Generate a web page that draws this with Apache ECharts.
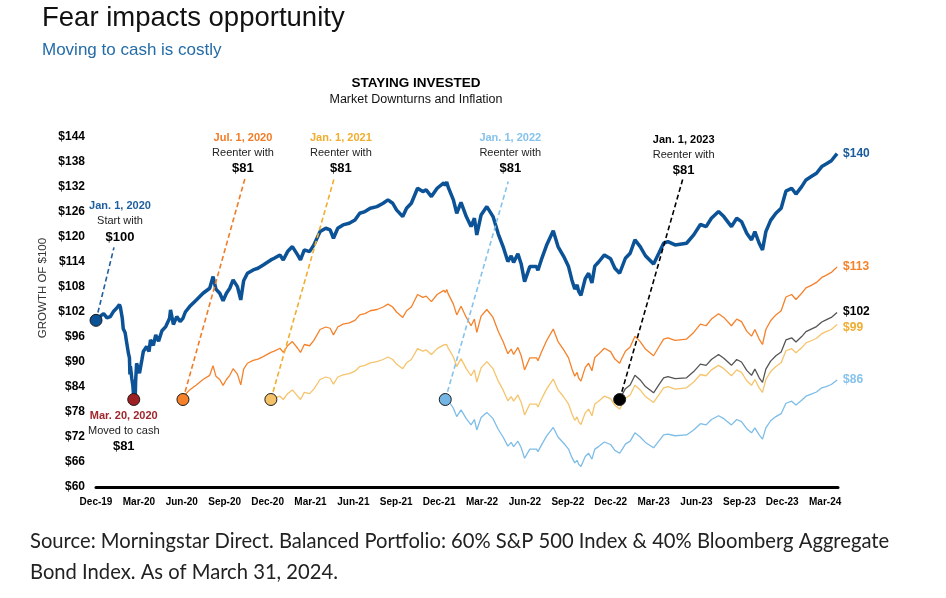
<!DOCTYPE html>
<html>
<head>
<meta charset="utf-8">
<title>Fear impacts opportunity</title>
<script src="https://cdn.jsdelivr.net/npm/echarts@6/dist/echarts.min.js"></script>
<style>
html, body {margin: 0; padding: 0; background: #fff;}
#chart {width: 946px; height: 598px;}
</style>
</head>
<body>
<div id="chart"></div>
<script>
// Balanced portfolio, growth of $100
var dates = [
  '2020-01-01','2020-01-10','2020-01-17','2020-01-24','2020-01-31','2020-02-07','2020-02-14','2020-02-19','2020-02-21','2020-02-25',
  '2020-02-27','2020-03-02','2020-03-05','2020-03-09','2020-03-11','2020-03-12','2020-03-13','2020-03-16','2020-03-18','2020-03-20',
  '2020-03-23','2020-03-24','2020-03-26','2020-04-01','2020-04-06','2020-04-09','2020-04-16','2020-04-21','2020-04-24','2020-04-30',
  '2020-05-05','2020-05-11','2020-05-18','2020-05-26','2020-06-03','2020-06-05','2020-06-11','2020-06-18','2020-06-25','2020-07-01',
  '2020-07-06','2020-07-15','2020-07-29','2020-08-12','2020-08-26','2020-09-02','2020-09-08','2020-09-16','2020-09-23','2020-09-30',
  '2020-10-07','2020-10-14','2020-10-23','2020-10-30','2020-11-05','2020-11-13','2020-11-25','2020-12-05','2020-12-16','2021-01-01',
  '2021-01-08','2021-01-20','2021-01-27','2021-02-05','2021-02-15','2021-02-26','2021-03-04','2021-03-12','2021-03-23','2021-04-01',
  '2021-04-14','2021-04-26','2021-05-05','2021-05-12','2021-05-21','2021-06-01','2021-06-14','2021-06-26','2021-07-06','2021-07-17',
  '2021-07-28','2021-08-11','2021-08-24','2021-09-03','2021-09-13','2021-09-21','2021-10-04','2021-10-12','2021-10-22','2021-11-04',
  '2021-11-15','2021-11-22','2021-12-03','2021-12-15','2021-12-29','2022-01-01','2022-01-04','2022-01-07','2022-01-18','2022-01-25',
  '2022-02-03','2022-02-14','2022-02-24','2022-03-03','2022-03-08','2022-03-17','2022-03-29','2022-04-11','2022-04-22','2022-05-02',
  '2022-05-12','2022-05-19','2022-05-24','2022-06-02','2022-06-09','2022-06-16','2022-06-27','2022-07-11','2022-07-14','2022-07-21',
  '2022-08-01','2022-08-15','2022-08-25','2022-09-06','2022-09-16','2022-09-23','2022-09-29','2022-10-04','2022-10-07','2022-10-12',
  '2022-10-21','2022-10-28','2022-11-04','2022-11-10','2022-11-18','2022-11-30','2022-12-13','2022-12-22','2023-01-01','2023-01-05',
  '2023-01-13','2023-01-23','2023-02-02','2023-02-13','2023-02-24','2023-03-13','2023-03-24','2023-04-03','2023-04-12','2023-04-27',
  '2023-05-21','2023-06-05','2023-06-19','2023-07-01','2023-07-12','2023-07-27','2023-08-07','2023-08-23','2023-09-03','2023-09-13',
  '2023-09-24','2023-10-04','2023-10-11','2023-10-20','2023-10-27','2023-11-03','2023-11-13','2023-11-24','2023-12-05','2023-12-15',
  '2023-12-27','2024-01-05','2024-01-17','2024-01-26','2024-02-06','2024-02-17','2024-02-28','2024-03-08','2024-03-19','2024-03-31'
];

var balanced = [
  100.0, 101.0, 101.6, 100.6, 100.9, 102.2, 103.0, 103.8, 103.2, 100.5,
  98.0, 97.0, 94.8, 92.0, 91.0, 87.0, 89.0, 86.0, 84.5, 81.5,
  81.0, 85.5, 89.7, 87.3, 90.5, 92.5, 93.7, 92.5, 95.3, 94.0,
  96.5, 95.0, 97.5, 98.5, 100.5, 102.5, 99.0, 100.9, 99.7, 100.5,
  102.0, 103.3, 104.9, 106.5, 107.7, 110.5, 107.5, 106.5, 104.7, 106.5,
  107.7, 109.7, 108.1, 104.9, 109.5, 111.3, 112.1, 112.5, 113.3, 114.5,
  114.9, 115.7, 114.5, 116.5, 117.7, 115.7, 114.5, 116.9, 116.5, 118.1,
  121.3, 122.1, 121.7, 119.7, 122.1, 122.9, 123.3, 124.1, 125.7, 126.1,
  126.9, 127.3, 128.1, 128.9, 128.1, 126.5, 124.9, 126.9, 128.1, 131.7,
  130.9, 131.3, 129.7, 131.7, 133.0, 132.4, 133.2, 132.0, 128.9, 125.7,
  128.3, 124.9, 122.5, 124.5, 120.5, 125.3, 127.3, 124.9, 120.7, 117.7,
  114.1, 115.5, 113.9, 116.0, 113.5, 109.3, 112.9, 112.9, 112.0, 114.5,
  118.0, 121.5, 117.7, 115.3, 112.9, 109.7, 107.5, 108.5, 107.0, 106.0,
  110.0, 111.3, 109.0, 113.0, 114.0, 115.7, 114.8, 112.5, 111.3, 112.5,
  114.9, 116.1, 119.3, 117.7, 115.5, 113.5, 116.1, 118.5, 118.9, 118.1,
  118.5, 120.5, 123.0, 122.5, 124.5, 126.1, 124.9, 122.5, 124.5, 123.7,
  120.9, 119.3, 121.3, 118.5, 116.9, 121.3, 124.0, 125.7, 126.9, 131.0,
  131.7, 130.3, 132.1, 133.7, 134.5, 135.3, 136.9, 137.5, 138.3, 140.0
];

// $81 reentered on each date; each list runs to the last date
var reenterJul20 = [
  81.0, 82.2, 83.3, 84.5, 85.8, 86.8, 89.1, 86.6, 85.8, 84.4,
  85.8, 86.8, 88.4, 87.1, 84.5, 88.3, 89.7, 90.4, 90.7, 91.3,
  92.3, 92.6, 93.3, 92.3, 93.9, 94.9, 93.3, 92.3, 94.2, 93.9,
  95.2, 97.8, 98.4, 98.1, 96.5, 98.4, 99.1, 99.4, 100.0, 101.3,
  101.6, 102.3, 102.6, 103.2, 103.9, 103.2, 102.0, 100.7, 102.3, 103.2,
  106.2, 105.5, 105.8, 104.5, 106.2, 107.2, 106.7, 107.4, 106.4, 103.9,
  101.3, 103.4, 100.7, 98.7, 100.3, 97.1, 101.0, 102.6, 100.7, 97.3,
  94.9, 92.0, 93.1, 91.8, 93.5, 91.5, 88.1, 91.0, 91.0, 90.3,
  92.3, 95.1, 97.9, 94.9, 92.9, 91.0, 88.4, 86.6, 87.5, 86.2,
  85.4, 88.7, 89.7, 87.9, 91.1, 91.9, 93.3, 92.5, 90.7, 89.7,
  90.7, 92.6, 93.6, 96.2, 94.9, 93.1, 91.5, 93.6, 95.5, 95.8,
  95.2, 95.5, 97.1, 99.1, 98.7, 100.3, 101.6, 100.7, 98.7, 100.3,
  99.7, 97.4, 96.2, 97.8, 95.5, 94.2, 97.8, 99.9, 101.3, 102.3,
  105.6, 106.2, 105.0, 106.5, 107.8, 108.4, 109.1, 110.3, 110.8, 111.5, 112.8
];

var reenterJan21 = [
  81.0, 81.3, 81.8, 81.0, 82.4, 83.3, 81.8, 81.0, 82.7, 82.4,
  83.5, 85.8, 86.4, 86.1, 84.7, 86.4, 86.9, 87.2, 87.8, 88.9,
  89.2, 89.8, 90.1, 90.6, 91.2, 90.6, 89.5, 88.4, 89.8, 90.6,
  93.2, 92.6, 92.9, 91.8, 93.2, 94.1, 93.7, 94.2, 93.4, 91.2,
  88.9, 90.8, 88.4, 86.7, 88.1, 85.2, 88.6, 90.1, 88.4, 85.4,
  83.3, 80.7, 81.7, 80.6, 82.1, 80.3, 77.3, 79.9, 79.9, 79.2,
  81.0, 83.5, 85.9, 83.3, 81.6, 79.9, 77.6, 76.0, 76.8, 75.7,
  75.0, 77.8, 78.7, 77.1, 79.9, 80.6, 81.8, 81.2, 79.6, 78.7,
  79.6, 81.3, 82.1, 84.4, 83.3, 81.7, 80.3, 82.1, 83.8, 84.1,
  83.5, 83.8, 85.2, 87.0, 86.7, 88.1, 89.2, 88.4, 86.7, 88.1,
  87.5, 85.5, 84.4, 85.8, 83.8, 82.7, 85.8, 87.7, 88.9, 89.8,
  92.7, 93.2, 92.2, 93.4, 94.6, 95.1, 95.7, 96.8, 97.3, 97.8, 99.0
];

var reenterJan22 = [
  81.0, 81.5, 80.8, 78.9,
  76.9, 78.5, 76.4, 74.9, 76.2, 73.7, 76.7, 77.9, 76.4, 73.8,
  72.0, 69.8, 70.7, 69.7, 71.0, 69.4, 66.9, 69.1, 69.1, 68.5,
  70.0, 72.2, 74.3, 72.0, 70.5, 69.1, 67.1, 65.8, 66.4, 65.5,
  64.9, 67.3, 68.1, 66.7, 69.1, 69.7, 70.8, 70.2, 68.8, 68.1,
  68.8, 70.3, 71.0, 73.0, 72.0, 70.7, 69.4, 71.0, 72.5, 72.7,
  72.3, 72.5, 73.7, 75.2, 74.9, 76.2, 77.1, 76.4, 74.9, 76.2,
  75.7, 74.0, 73.0, 74.2, 72.5, 71.5, 74.2, 75.9, 76.9, 77.6,
  80.1, 80.6, 79.7, 80.8, 81.8, 82.3, 82.8, 83.8, 84.1, 84.6, 85.7
];

var reenterJan23 = [
  81.0,
  81.9, 83.6, 84.5, 86.8, 85.7, 84.1, 82.6, 84.5, 86.2, 86.5,
  86.0, 86.2, 87.7, 89.5, 89.2, 90.6, 91.8, 90.9, 89.2, 90.6,
  90.0, 88.0, 86.8, 88.3, 86.2, 85.1, 88.3, 90.2, 91.5, 92.4,
  95.3, 95.8, 94.8, 96.1, 97.3, 97.9, 98.5, 99.6, 100.1, 100.7, 101.9
];

var tickLabels = ['Dec-19','Mar-20','Jun-20','Sep-20','Dec-20','Mar-21','Jun-21','Sep-21','Dec-21',
                  'Mar-22','Jun-22','Sep-22','Dec-22','Mar-23','Jun-23','Sep-23','Dec-23','Mar-24'];

var markerDates = ['2020-01-01','2020-03-20','2020-07-01','2021-01-01','2022-01-01','2023-01-01'];
var markerValues = [100, 81, 81, 81, 81, 81];

// styling
var FONT = '"Liberation Sans", Arial, sans-serif';
var markerColors = ['#0b5296', '#9e1f24', '#f5822a', '#f3c168', '#74b6e3', '#000000'];

var callouts = [
  {head: 'Jan. 1, 2020', body: 'Start with', amount: '$100', color: '#1f5f9f', dx: 24, dy: -114, lineTo: [18, -73]},
  {head: 'Mar. 20, 2020', body: 'Moved to cash', amount: '$81', color: '#a0282c', dx: -10, dy: 16},
  {head: 'Jul. 1, 2020', body: 'Reenter with', amount: '$81', color: '#f27c25', dx: 60, dy: -262, lineTo: [62, -221]},
  {head: 'Jan. 1, 2021', body: 'Reenter with', amount: '$81', color: '#f0ad2e', dx: 70, dy: -262, lineTo: [63, -220]},
  {head: 'Jan. 1, 2022', body: 'Reenter with', amount: '$81', color: '#86c3ec', dx: 65, dy: -262, lineTo: [63, -218]},
  {head: 'Jan. 1, 2023', body: 'Reenter with', amount: '$81', color: '#000000', dx: 64, dy: -260, lineTo: [63, -220]}
];

function ts(s) {
  var p = s.split('-');
  return new Date(+p[0], +p[1] - 1, +p[2]).getTime();
}

function pairs(values) {
  var start = dates.length - values.length;
  return values.map(function (v, i) { return [ts(dates[start + i]), v]; });
}

function lineSeries(name, values, color, width, labelColor, labelOffset) {
  return {
    name: name,
    type: 'line',
    xAxisIndex: 0,
    data: pairs(values),
    showSymbol: false,
    symbol: 'none',
    z: 3,
    lineStyle: {color: color, width: width},
    emphasis: {disabled: true},
    endLabel: {
      show: true,
      formatter: function (p) { return '$' + Math.round(p.value[1]); },
      color: labelColor,
      fontFamily: FONT,
      fontWeight: 'bold',
      fontSize: 12,
      distance: 6,
      offset: labelOffset || [0, 0]
    }
  };
}

var chart = echarts.init(document.getElementById('chart'));

var option = {
  animation: false,
  backgroundColor: '#fff',
  grid: {left: 96, right: 108, top: 137, bottom: 111},
  xAxis: [{
    type: 'time',
    min: ts('2020-01-01'),
    max: ts('2024-04-02'),
    show: false
  }, {
    type: 'value',
    min: 0,
    max: 17.3,
    interval: 1,
    position: 'bottom',
    axisLine: {show: true, lineStyle: {color: '#000', width: 3}},
    axisTick: {show: false},
    splitLine: {show: false},
    axisLabel: {
      showMaxLabel: false,
      margin: 10,
      fontFamily: FONT,
      fontWeight: 'bold',
      fontSize: 10,
      color: '#000',
      formatter: function (v) { return tickLabels[v] || ''; }
    }
  }],
  yAxis: {
    type: 'value',
    min: 60,
    max: 144,
    interval: 6,
    axisLine: {show: false},
    axisTick: {show: false},
    splitLine: {show: false},
    axisLabel: {
      margin: 11,
      fontFamily: FONT,
      fontWeight: 'bold',
      fontSize: 12,
      color: '#000',
      formatter: function (v) { return '$' + v; }
    }
  },
  series: [
    lineSeries('Reenter Jan. 1, 2022', reenterJan22, '#7dbde8', 1.3, '#86c3ec'),
    lineSeries('Reenter Jan. 1, 2021', reenterJan21, '#f5c46c', 1.3, '#f0ad2e', [0, 3]),
    lineSeries('Reenter Jan. 1, 2023', reenterJan23, '#555555', 1.3, '#000000', [0, -1]),
    lineSeries('Reenter Jul. 1, 2020', reenterJul20, '#f5822a', 1.3, '#f5822a'),
    lineSeries('Stayed invested', balanced, '#0b5296', 3.5, '#1a5b9c'),
    {
      type: 'scatter',
      xAxisIndex: 0,
      z: 10,
      symbolSize: 12,
      emphasis: {disabled: true},
      itemStyle: {borderColor: '#1a1a1a', borderWidth: 1},
      data: markerDates.map(function (d, i) {
        return {value: [ts(d), markerValues[i]], itemStyle: {color: markerColors[i], opacity: 1}};
      })
    }
  ]
};

chart.setOption(option);

// titles, axis name and callouts
var g = [
  {type: 'text', x: 42, y: 18, style: {text: 'Fear impacts opportunity', font: '27.5px ' + FONT, fill: '#111', verticalAlign: 'middle'}},
  {type: 'text', x: 42, y: 50, style: {text: 'Moving to cash is costly', font: '17px ' + FONT, fill: '#236ca8', verticalAlign: 'middle'}},
  {type: 'text', x: 416, y: 83, style: {text: 'STAYING INVESTED', font: 'bold 13.5px ' + FONT, fill: '#000', align: 'center', verticalAlign: 'middle'}},
  {type: 'text', x: 416, y: 100, style: {text: 'Market Downturns and Inflation', font: '12.5px ' + FONT, fill: '#111', align: 'center', verticalAlign: 'middle'}},
  {type: 'text', x: 43, y: 288, rotation: Math.PI / 2, style: {text: 'GROWTH OF $100', font: '11.5px ' + FONT, fill: '#333', align: 'center', verticalAlign: 'middle'}},
  {type: 'text', x: 30, y: 541, style: {text: 'Source: Morningstar Direct. Balanced Portfolio: 60% S&P 500 Index & 40% Bloomberg Aggregate', font: '20.2px Lato, sans-serif', fill: '#222', verticalAlign: 'middle'}},
  {type: 'text', x: 30, y: 572, style: {text: 'Bond Index. As of March 31, 2024.', font: '20.2px Lato, sans-serif', fill: '#222', verticalAlign: 'middle'}}
];

callouts.forEach(function (c, i) {
  var p = chart.convertToPixel({xAxisIndex: 0, yAxisIndex: 0}, [ts(markerDates[i]), markerValues[i]]);
  var tx = p[0] + c.dx, ty = p[1] + c.dy;
  if (c.lineTo) {
    g.push({type: 'line', z: 5, shape: {x1: p[0], y1: p[1], x2: p[0] + c.lineTo[0], y2: p[1] + c.lineTo[1]},
            style: {stroke: c.color, lineWidth: 1.6, lineDash: [5, 3]}});
  }
  g.push({type: 'text', z: 6, x: tx, y: ty, style: {text: c.head, font: 'bold 11px ' + FONT, fill: c.color, align: 'center', verticalAlign: 'middle'}});
  g.push({type: 'text', z: 6, x: tx, y: ty + 15, style: {text: c.body, font: '11px ' + FONT, fill: '#222', align: 'center', verticalAlign: 'middle'}});
  g.push({type: 'text', z: 6, x: tx, y: ty + 31, style: {text: c.amount, font: 'bold 13px ' + FONT, fill: '#000', align: 'center', verticalAlign: 'middle'}});
});

chart.setOption({graphic: g});
</script>
</body>
</html>
